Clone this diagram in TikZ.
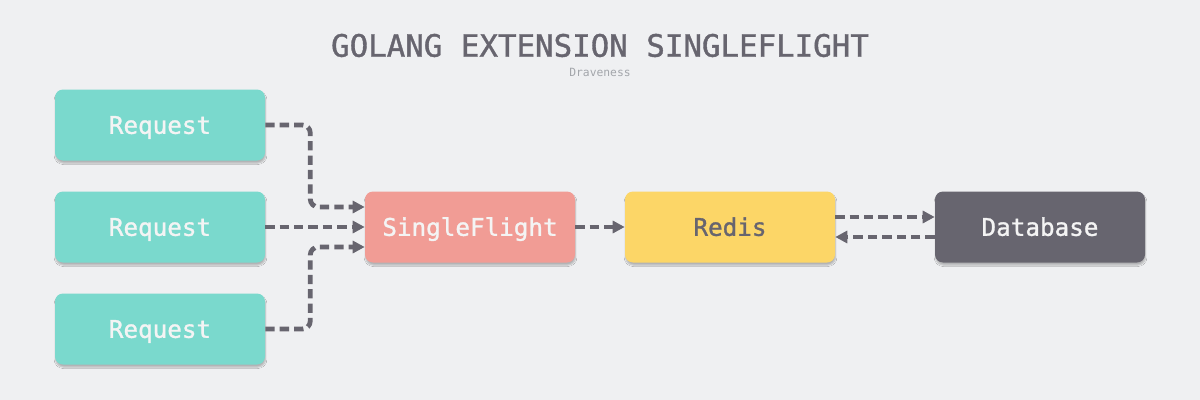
\documentclass[tikz,border=0pt]{standalone}
\usepackage{fontspec}
\setmonofont{DejaVu Sans Mono}
\newfontfamily\semimono{DejaVu Sans Mono}[FakeBold=1.2]
\usetikzlibrary{arrows.meta,shadows.blur}
\definecolor{bg}{HTML}{EFF0F2}
\definecolor{ink}{HTML}{67656F}
\definecolor{teal}{HTML}{7AD9CD}
\definecolor{salmon}{HTML}{F19C95}
\definecolor{gold}{HTML}{FCD667}
\definecolor{sub}{HTML}{A3A6AB}
\definecolor{lighttext}{HTML}{F4F4F4}
\tikzset{
  box/.style={rectangle, rounded corners=6pt, minimum width=157.5pt, minimum height=53.25pt,
    inner sep=0pt, text height=13.2pt, text depth=0pt,
    font=\semimono\fontsize{18.2}{20}\selectfont,
    blur shadow={shadow xshift=0.4pt, shadow yshift=-2pt, shadow blur radius=1pt, shadow blur steps=6, shadow opacity=25}},
  conn/.style={draw=ink, line width=3.6pt, dash pattern=on 7pt off 3.8pt, rounded corners=6pt,
    -{Triangle[length=9pt,width=9pt]}},
}
\begin{document}
\begin{tikzpicture}[x=0.75pt,y=-0.75pt]
\fill[bg] (0,0) rectangle (1200,400);
\useasboundingbox (0,0) rectangle (1200,400);
\node[text=ink, text height=16.8pt, text depth=0pt, inner sep=0pt, font=\semimono\fontsize{23.1}{25}\selectfont] (title) at (600,45.5) {GOLANG EXTENSION SINGLEFLIGHT};
\node[text=sub, text height=6.2pt, text depth=0pt, inner sep=0pt, font=\ttfamily\fontsize{8.5}{10}\selectfont] (author) at (600,72) {Draveness};

\node[box, fill=teal, text=lighttext] (r1) at (160,125) {Request};
\node[box, fill=teal, text=lighttext] (r2) at (160,227) {Request};
\node[box, fill=teal, text=lighttext] (r3) at (160,329) {Request};
\node[box, fill=salmon, text=lighttext] (sf) at (470,227) {SingleFlight};
\node[box, fill=gold, text=ink] (redis) at (730,227) {Redis};
\node[box, fill=ink, text=lighttext] (db) at (1040,227) {Database};

\draw[conn] (r1.east) -- ++(45,0) |- ([yshift=15pt]sf.west);
\draw[conn] (r2.east) -- (sf.west);
\draw[conn] (r3.east) -- ++(45,0) |- ([yshift=-15pt]sf.west);
\draw[conn] (sf.east) -- (redis.west);
\draw[conn] ([yshift=7.5pt]redis.east) -- ([yshift=7.5pt]db.west);
\draw[conn] ([yshift=-7.5pt]db.west) -- ([yshift=-7.5pt]redis.east);
\end{tikzpicture}
\end{document}
